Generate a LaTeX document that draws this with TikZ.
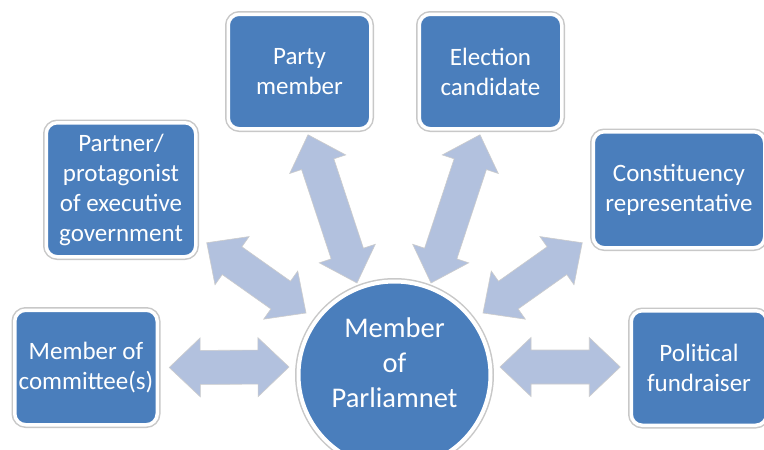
\documentclass[tikz,border=0pt]{standalone}
\usepackage{fontspec}
\setmainfont{Carlito}
\usepackage{tikz}
\usetikzlibrary{positioning}
\usetikzlibrary{calc}
\usetikzlibrary{shapes.geometric}
\pgfdeclarelayer{background}
\pgfdeclarelayer{foreground}
\pgfsetlayers{background,main,foreground}
\definecolor{roleblue}{RGB}{74,126,188}
\definecolor{wayfill}{RGB}{178,193,222}
\definecolor{framegray}{RGB}{200,200,200}
\newcommand{\twoway}[2]{%
	\filldraw[wayarrow] (#1)
		-- ($(#1)!31pt!(#2)!29.5pt!90:(#2)$)
		-- ($(#1)!31pt!(#2)!17pt!90:(#2)$)
		-- ($(#2)!31pt!(#1)!17pt!-90:(#1)$)
		-- ($(#2)!31pt!(#1)!29.5pt!-90:(#1)$)
		-- (#2)
		-- ($(#2)!31pt!(#1)!29.5pt!90:(#1)$)
		-- ($(#2)!31pt!(#1)!17pt!90:(#1)$)
		-- ($(#1)!31pt!(#2)!17pt!-90:(#2)$)
		-- ($(#1)!31pt!(#2)!29.5pt!-90:(#2)$)
		-- cycle;}

\begin{document}
\begin{tikzpicture}[x=1pt,y=-1pt,
							rolebox/.style={rectangle, rounded corners=11pt, fill=roleblue, draw=white, line width=3.5pt, preaction={draw=framegray, line width=6.5pt}, text=white, align=center, inner sep=0pt, outer sep=0pt, minimum width=142.5pt, minimum height=114.5pt, font=\fontsize{25}{30}\selectfont},
							mpnode/.style={ellipse, fill=roleblue, draw=white, line width=4pt, preaction={draw=framegray, line width=7pt}, inner sep=0pt, outer sep=0pt, minimum width=192pt, minimum height=187pt},
							mptext/.style={text=white, align=center, inner sep=0pt, font=\fontsize{28.5}{35}\selectfont},
							wayarrow/.style={fill=wayfill, draw=gray!40, line width=0.6pt, line join=miter},
							]
							\useasboundingbox (0,0) rectangle (764,450);
							\clip (0,0) rectangle (764,450);
							%Nodes
							\node[rolebox]                                          (com) 	at	(86,367.5) 	{Member of\\committee(s)};
							\node[rolebox, minimum width=149.5pt, minimum height=134pt]	(ppg) 	at	(121,189.75) 	{Partner/\\protagonist\\of executive\\government};
							\node[rolebox]                                          (pty) 	at	(299.5,71.5) 	{Party\\member};
							\node[rolebox]                                          (elc) 	at	(490.5,71.5) 	{Election\\candidate};
							\node[rolebox, minimum width=171.5pt, minimum height=116pt]	(con) 	at	(679,189.75) 	{Constituency\\representative};
							\node[rolebox, minimum width=135.5pt]                   (fnd) 	at	(699,368) 	{Political\\fundraiser};
							\node[mpnode]                                           (mp) 	at	(394.5,375) 	{};
							\node[mptext]                                           (mplabel) 	at	([yshift=12pt]mp.center) 	{Member\\of\\Parliamnet};
							
							%Arrow ends
							\coordinate (a1) at ([shift={(12,0)}]com.east);
							\coordinate (b1) at ([shift={(-105.5,-8)}]mp.center);
							\coordinate (a2) at ([shift={(-11,-1)}]fnd.west);
							\coordinate (b2) at ([shift={(105.5,-8)}]mp.center);
							\coordinate (a3) at ([shift={(11,-14)}]ppg.south east);
							\coordinate (b3) at ([shift={(-88.5,-62)}]mp.center);
							\coordinate (a4) at ([shift={(-11,-5)}]con.south west);
							\coordinate (b4) at ([shift={(88.5,-62)}]mp.center);
							\coordinate (a5) at ([shift={(8.5,6)}]pty.south);
							\coordinate (b5) at ([shift={(-37.5,-92)}]mp.center);
							\coordinate (a6) at ([shift={(-10.5,6)}]elc.south);
							\coordinate (b6) at ([shift={(36.5,-92)}]mp.center);
							
							\begin{pgfonlayer}{background}
							\fill[white] (0,0) rectangle (764,450);
							\twoway{a1}{b1}
							\twoway{a2}{b2}
							\twoway{a3}{b3}
							\twoway{a4}{b4}
							\twoway{a5}{b5}
							\twoway{a6}{b6}
							\end{pgfonlayer}
						\end{tikzpicture}
\end{document}
